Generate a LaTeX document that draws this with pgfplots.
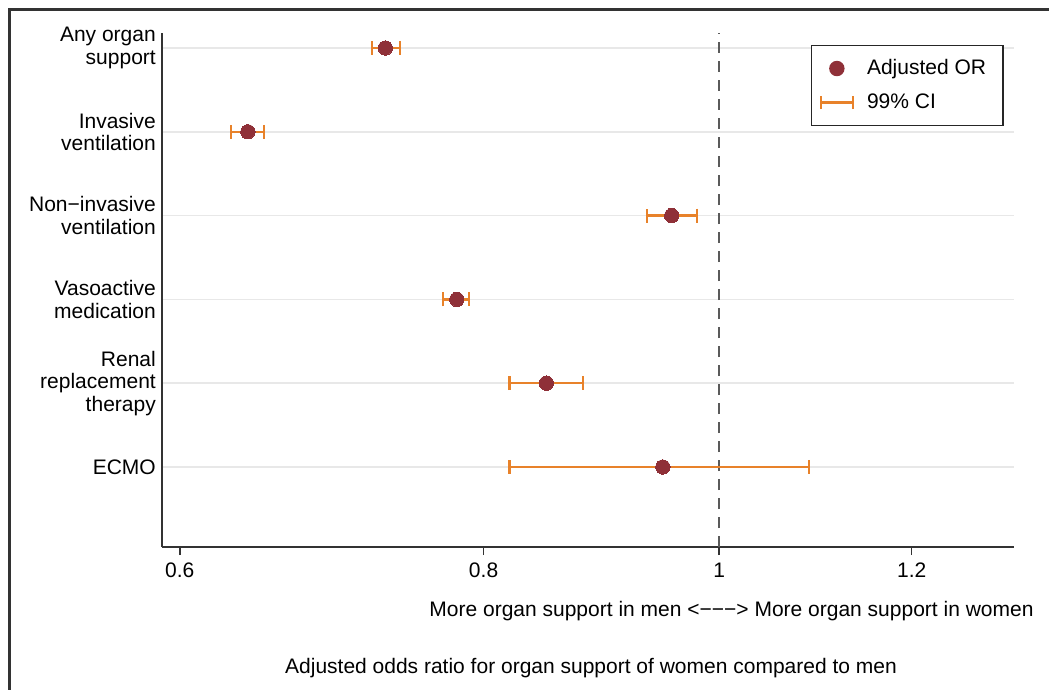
\documentclass[border=0pt]{standalone}
\usepackage{fontspec}
\setmainfont{Liberation Sans}
\usepackage{pgfplots}
\usepackage{pgfplotstable}
\pgfplotsset{compat=1.18}

\definecolor{ormarker}{RGB}{143,48,56}
\definecolor{cibar}{RGB}{232,130,42}
\definecolor{gridgray}{RGB}{232,232,232}
\definecolor{axisgray}{RGB}{51,51,51}
\definecolor{refgray}{RGB}{90,90,90}

% row: 6 = top (Any organ support) ... 1 = bottom (ECMO)
\pgfplotstableread{
row or    lo    hi
6   0.729 0.720 0.739
5   0.640 0.630 0.650
4   0.956 0.934 0.979
3   0.780 0.770 0.789
2   0.849 0.820 0.879
1   0.948 0.820 1.089
}\ordata

\newcommand{\lblfont}{\fontsize{21}{22.5}\selectfont}

\begin{document}
\begin{tikzpicture}
% outer frame (only its left and top edges fall inside the page)
\draw[axisgray, line width=2.6pt] (9.5pt,-9.5pt) rectangle (1100pt,-750pt);
\begin{axis}[
  at={(162pt,-33pt)}, anchor=north west,
  scale only axis, width=852pt, height=514pt,
  xmode=log, xmin=0.590, xmax=1.322,
  ymin=0.045, ymax=6.179,
  axis x line*=bottom, axis y line*=left,
  axis line style={axisgray, line width=1.8pt, -},
  xtick={0.6,0.8,1,1.2}, xticklabels={0.6,0.8,1,1.2},
  xtick align=outside,
  x tick style={axisgray, line width=1.5pt},
  major tick length=8pt,
  ytick={1,2,3,4,5,6},
  yticklabels={ECMO,{Renal\\replacement\\therapy},{Vasoactive\\medication},{Non−invasive\\ventilation},{Invasive\\ventilation},{Any organ\\support}},
  y tick style={draw=none},
  ymajorgrids, grid style={gridgray, line width=1.7pt},
  tick label style={font=\lblfont},
  yticklabel style={align=right, inner sep=0pt, xshift=-6pt},
  xticklabel style={inner sep=0pt, yshift=-8pt},
  /pgf/number format/assume math mode=true,
  legend cell align=left,
  legend style={at={(0.988,0.977)}, anchor=north east, draw=black!85, line width=1.4pt,
    font=\lblfont, inner xsep=8pt, inner ysep=9.5pt, row sep=7pt, column sep=10pt,
    nodes={inner sep=3pt, text height=16pt, text depth=5pt}},
]
\addlegendimage{legend image code/.code={\fill[ormarker] (16pt,0pt) circle (7pt);}}
\addlegendentry{Adjusted OR\rule{6pt}{0pt}}
\addlegendimage{legend image code/.code={
  \draw[cibar, line width=2.3pt] (0pt,0pt) -- (32pt,0pt);
  \draw[cibar, line width=2.3pt] (0pt,-6.5pt) -- (0pt,6.5pt) (32pt,-6.5pt) -- (32pt,6.5pt);}}
\addlegendentry{99\% CI}

\addplot[refgray, line width=1.8pt, dash pattern=on 11pt off 8pt, forget plot]
  coordinates {(1,0.045) (1,6.179)};

\addplot[draw=none, mark=none, forget plot,
  error bars/.cd, x dir=both, x explicit,
  error bar style={draw=cibar, line width=2.3pt, solid},
  error mark options={draw=cibar, line width=2.3pt, mark size=7pt, rotate=90}]
  table[x=or, y=row,
    x error minus expr=\thisrow{or}-\thisrow{lo},
    x error plus expr=\thisrow{hi}-\thisrow{or}] {\ordata};

\addplot[only marks, mark=*, mark size=7.2pt, forget plot,
  mark options={fill=ormarker, draw=ormarker, line width=0pt}]
  table[x=or, y=row] {\ordata};
\end{axis}

\node[anchor=base, font=\lblfont] at (731.5pt,-616pt) {More organ support in men <−−−> More organ support in women};
\node[anchor=base, font=\lblfont] at (591pt,-673pt) {Adjusted odds ratio for organ support of women compared to men};

\pgfresetboundingbox
\path[use as bounding box] (0pt,0pt) rectangle (1049pt,-690pt);
\end{tikzpicture}
\end{document}
